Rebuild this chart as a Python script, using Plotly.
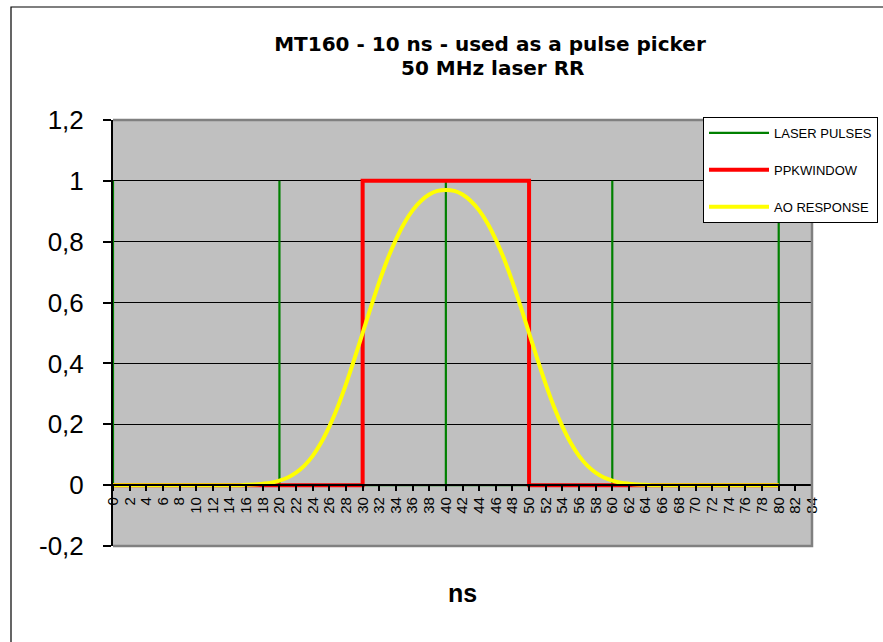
import plotly.graph_objects as go

# ---------------- data ----------------
laser_x = [0, 0, 20, 20, 20, 40, 40, 40, 60, 60, 60, 80, 80]
laser_y = [1, 0, 0, 1, 0, 0, 1, 0, 0, 1, 0, 0, 1]

ppk_x = [0, 30, 30, 50, 50, 80]
ppk_y = [0, 0, 1, 1, 0, 0]

ao_x = list(range(0, 81))
ao_y = [0, 0, 0, 0, 0, 0, 0, 0, 0, 0, 0, 0, 0, 0, 0, 0,
        0.001, 0.002, 0.0045, 0.008, 0.015, 0.025, 0.041, 0.064, 0.096, 0.139,
        0.193, 0.257, 0.332, 0.414, 0.5, 0.586, 0.668, 0.743, 0.807, 0.861,
        0.903, 0.934, 0.955, 0.967,
        0.970,
        0.967, 0.955, 0.934, 0.903,
        0.861, 0.807, 0.743, 0.668, 0.586, 0.5, 0.414, 0.332, 0.257, 0.193,
        0.139, 0.096, 0.064, 0.041, 0.025, 0.015, 0.008, 0.0045, 0.002, 0.001,
        0, 0, 0, 0, 0, 0, 0, 0, 0, 0, 0, 0, 0, 0, 0, 0]

series_names = ["LASER PULSES", "PPKWINDOW", "AO RESPONSE"]

x_tick_vals = list(range(0, 85, 2))
x_tick_text = [str(v) for v in x_tick_vals]
y_tick_vals = [-0.2, 0, 0.2, 0.4, 0.6, 0.8, 1, 1.2]
y_tick_text = ["-0,2", "0", "0,2", "0,4", "0,6", "0,8", "1", "1,2"]

title_line1 = "MT160 - 10 ns - used as a pulse picker"
title_line2 = "50 MHz laser RR"
x_title = "ns"

# ---------------- figure ----------------
ARIAL = "Liberation Sans, Arial, sans-serif"
TITLE_FONT = dict(family="DejaVu Sans", size=20, weight="bold", color="black")

W, H = 883, 642
L, R, T, B = 113, 71, 120, 96
PW, PH = W - L - R, H - T - B

fig = go.Figure()
fig.add_trace(go.Scatter(x=laser_x, y=laser_y, mode="lines", name=series_names[0],
                         legendgroup="g1", line=dict(color="#008000", width=2.2)))
fig.add_trace(go.Scatter(x=ppk_x, y=ppk_y, mode="lines", name=series_names[1],
                         legendgroup="g2", line=dict(color="#FF0000", width=4)))
fig.add_trace(go.Scatter(x=ao_x, y=ao_y, mode="lines", name=series_names[2],
                         legendgroup="g3", line=dict(color="#FFFF00", width=4, shape="spline")))

fig.update_layout(
    template="none",
    width=W, height=H,
    margin=dict(l=L, r=R, t=T, b=B, autoexpand=False),
    paper_bgcolor="white",
    plot_bgcolor="#C0C0C0",
    separators=", ",
    showlegend=True,
    title=dict(text=title_line1, x=(490 - L) / PW, xref="paper", xanchor="center",
               y=1 - 43.5 / H, yref="container", yanchor="middle", font=TITLE_FONT),
    annotations=[
        dict(text=title_line2, xref="paper", yref="paper",
             x=(493 - L) / PW, y=1 + (T - 67.5) / PH, xanchor="center", yanchor="middle",
             showarrow=False, font=TITLE_FONT),
    ],
    legend=dict(x=(703 - L) / PW, y=1 + (T - 117) / PH, xanchor="left", yanchor="top",
                bgcolor="white", bordercolor="black", borderwidth=1,
                font=dict(family=ARIAL, size=13, color="black"),
                itemwidth=60, tracegroupgap=17, traceorder="grouped"),
    xaxis=dict(range=[0, 84], anchor="free", position=0.2 / 1.4,
               showline=True, linecolor="black", linewidth=2,
               ticks="outside", ticklen=5, tickwidth=1.5, tickcolor="black",
               tickmode="array", tickvals=x_tick_vals, ticktext=x_tick_text,
               tickangle=-90, tickfont=dict(family=ARIAL, size=15, color="black"),
               showgrid=False, zeroline=False, automargin=False,
               title=dict(text=x_title, standoff=71,
                          font=dict(family=ARIAL, size=25, weight="bold", color="black"))),
    yaxis=dict(range=[-0.2, 1.2], showline=True, linecolor="black", linewidth=2,
               ticks="outside", ticklen=8, tickwidth=2, tickcolor="black",
               tickmode="array", tickvals=y_tick_vals, ticktext=y_tick_text,
               ticklabelstandoff=14,
               tickfont=dict(family=ARIAL, size=26, color="black"),
               showgrid=True, gridcolor="black", gridwidth=1,
               zeroline=False, automargin=False),
    shapes=[
        # plot-area frame (top, right, bottom) in Excel grey
        dict(type="path", xref="paper", yref="paper",
             path="M 0,1 L 1,1 L 1,0 L 0,0", line=dict(color="#808080", width=2.5),
             layer="above"),
        # outer chart border
        dict(type="rect", xref="paper", yref="paper",
             x0=(11 - L) / PW, x1=1.3, y0=-0.4, y1=1 + (T - 7) / PH,
             line=dict(color="black", width=1.2), fillcolor="rgba(0,0,0,0)",
             layer="below"),
    ],
)

fig.write_html("out.html",
               config={"displayModeBar": False},
               post_script="document.body.style.margin='0';document.body.style.overflow='hidden';")
